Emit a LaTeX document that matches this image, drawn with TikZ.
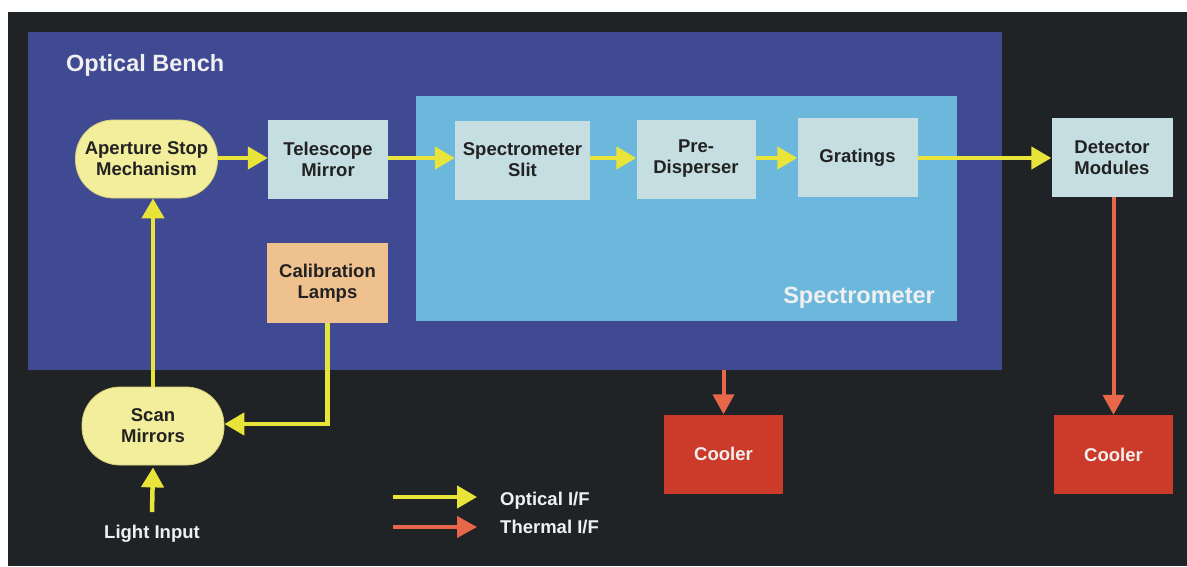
\documentclass[tikz,border=0pt]{standalone}
\usepackage{fontspec}
\setmainfont{Liberation Sans}
\usetikzlibrary{arrows.meta}
\definecolor{bgblack}{HTML}{1F2326}
\definecolor{benchblue}{HTML}{3F4A93}
\definecolor{specblue}{HTML}{6BB8DC}
\definecolor{pillyellow}{HTML}{F2EE9C}
\definecolor{pilledge}{HTML}{D8D27A}
\definecolor{boxlight}{HTML}{C5DEE2}
\definecolor{callamp}{HTML}{EFC18F}
\definecolor{coolred}{HTML}{CC3A2A}
\definecolor{optyellow}{HTML}{E9E43A}
\definecolor{thermred}{HTML}{E8674B}
\definecolor{darktext}{HTML}{222222}
\definecolor{lighttext}{HTML}{F0F0F0}
\tikzset{
  txt/.style={font=\bfseries\fontsize{18.5}{21}\selectfont, align=center, text=darktext},
  pill/.style={txt, fill=pillyellow, draw=pilledge, line width=0.8pt, rounded corners=38pt, minimum width=142pt, minimum height=78pt},
  lbox/.style={txt, fill=boxlight, minimum width=120pt, minimum height=79pt},
  calbox/.style={txt, fill=callamp, minimum width=121pt, minimum height=80pt},
  coolbox/.style={txt, text=lighttext, fill=coolred, minimum width=119pt, minimum height=79pt},
  whitelabel/.style={font=\bfseries\fontsize{23.5}{26}\selectfont, text=lighttext, inner sep=0pt},
  whitetxt/.style={font=\bfseries\fontsize{18.5}{21}\selectfont, text=lighttext, inner sep=0pt},
  opt/.style={draw=optyellow, line width=4.5pt, -{Triangle[length=20pt,width=22pt]}},
  therm/.style={draw=thermred, line width=4pt, -{Triangle[length=20pt,width=21pt]}},
}
\begin{document}
\begin{tikzpicture}[x=1pt,y=-1pt]
\useasboundingbox (0,0) rectangle (1187,566);
\fill[white] (0,0) rectangle (1187,566);
\fill[bgblack] (8,12) rectangle (1187,566);

% containers
\node[fill=benchblue, minimum width=974pt, minimum height=338pt, inner sep=0pt] (bench) at (515,201) {};
\node[fill=specblue, minimum width=541pt, minimum height=225pt, inner sep=0pt] (spec) at (686.5,208.5) {};
\node[whitelabel, anchor=base west] (benchlabel) at (66,71) {Optical Bench};
\node[whitelabel, anchor=base east] (speclabel) at (935,303) {Spectrometer};

% nodes
\node[pill] (aperture) at (146.5,159) {Aperture Stop\\Mechanism};
\node[lbox] (telescope) at (328,159) {Telescope\\Mirror};
\node[lbox, minimum width=135pt] (slit) at (522.5,160) {Spectrometer\\Slit};
\node[lbox, minimum width=119pt] (pre) at (696,159) {Pre-\\Disperser};
\node[lbox] (gratings) at (857.5,157.5) {Gratings};
\node[lbox, minimum width=121pt] (detector) at (1112,157.5) {Detector\\Modules};
\node[calbox] (cal) at (327.5,283) {Calibration\\Lamps};
\node[pill] (scan) at (153,426) {Scan\\Mirrors};
\node[coolbox] (cooler1) at (723.5,454) {Cooler};
\node[coolbox] (cooler2) at (1113.5,454.5) {Cooler};
\node[whitetxt] (light) at (152,534) {Light Input};

% optical connectors
\draw[opt] (aperture.east |- 0,158) -- (telescope.west |- 0,158);
\draw[opt] (telescope.east |- 0,158) -- (slit.west |- 0,158);
\draw[opt] (slit.east |- 0,158) -- (pre.west |- 0,158);
\draw[opt] (pre.east |- 0,158) -- (gratings.west |- 0,158);
\draw[opt] (gratings.east |- 0,158) -- (detector.west |- 0,158);
\draw[opt] (scan.north) -- (aperture.south -| scan.north);
\draw[opt] (cal.south) |- ([yshift=2pt]scan.east);
\draw[opt] ([yshift=13pt]light.north) -- ([yshift=-2pt]scan.south);

% thermal connectors
\draw[therm] (bench.south -| cooler1.north) -- (cooler1.north);
\draw[therm] (detector.south -| cooler2.north) -- (cooler2.north);

% legend
\coordinate (legopta) at (393,497);
\coordinate (legoptb) at (477,497);
\coordinate (legtha) at (393,527);
\coordinate (legthb) at (477,527);
\draw[opt] (legopta) -- (legoptb);
\draw[therm] (legtha) -- (legthb);
\node[whitetxt, anchor=base west] (legopt) at (500,505) {Optical I/F};
\node[whitetxt, anchor=base west] (legth) at (500,533) {Thermal I/F};
\end{tikzpicture}
\end{document}
